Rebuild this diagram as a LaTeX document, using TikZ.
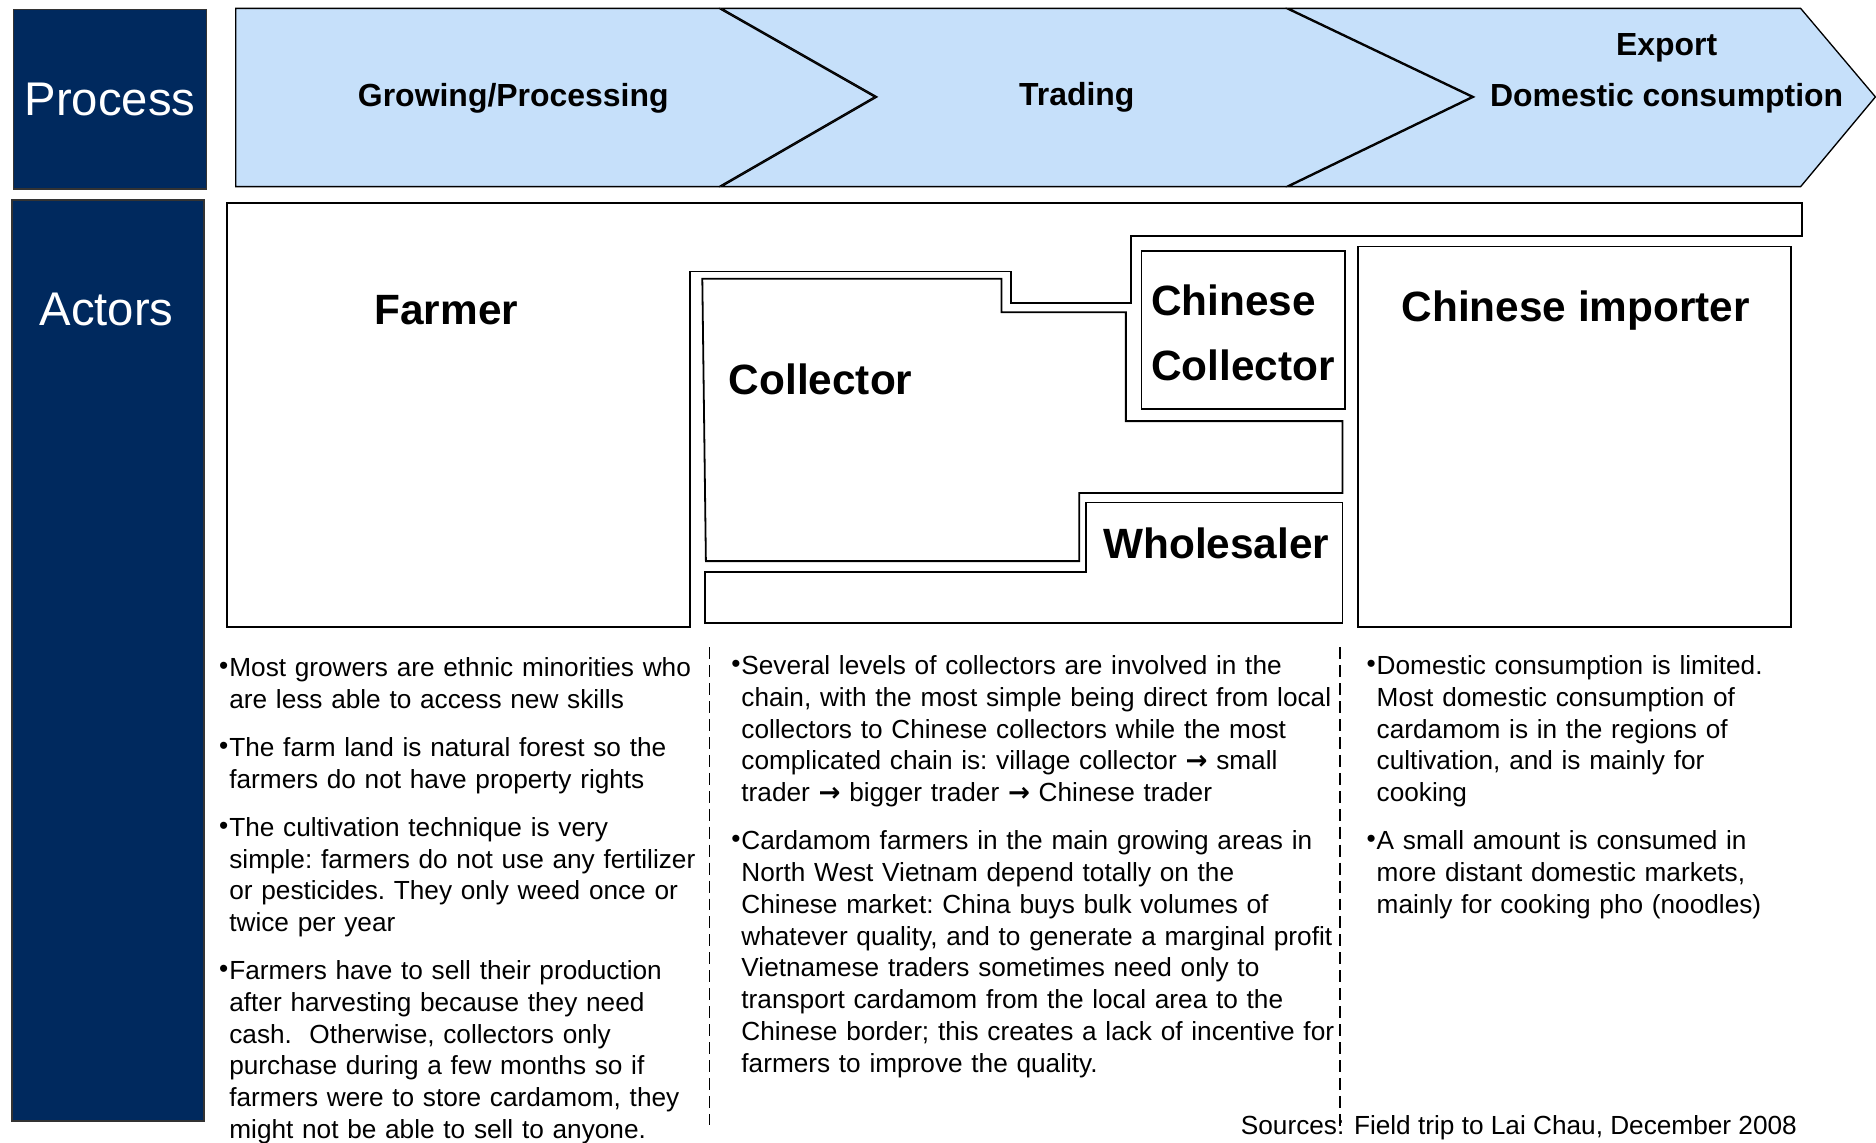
\documentclass[tikz,border=0pt]{standalone}
\usepackage{fontspec}
\setmainfont{Liberation Sans}
\newfontfamily\arrowfont{DejaVu Sans}
\definecolor{navy}{RGB}{0,41,94}
\definecolor{chev}{RGB}{198,224,250}
\newcommand\rarr{{\arrowfont\bfseries\char"2192}}
\newcommand\bpara[1]{\par\noindent\hangindent=8.5pt\hangafter=1\strut\makebox[8.5pt][l]{\raisebox{1.8pt}{\char"2022}}#1\par}
\newcommand\pgap{\vskip 13.4pt}
\begin{document}
\begin{tikzpicture}[x=1pt,y=-1pt,
  navybox/.style={fill=navy,draw=black!80,line width=1.2pt,inner sep=0pt,text=white,font=\fontsize{39.5}{44}\selectfont},
  chevron/.style={fill=chev,draw=black,line width=1.1pt},
  actorline/.style={draw=black,line width=1.5pt},
  chevlabel/.style={anchor=base,inner sep=0pt,font=\bfseries\fontsize{26.7}{30}\selectfont},
  actorlabel/.style={inner sep=0pt,font=\bfseries\fontsize{35.4}{40}\selectfont},
  bodytext/.style={anchor=north west,inner sep=0pt,font=\fontsize{21.9}{26.6}\selectfont},
  sep/.style={draw=black,line width=1.3pt,dash pattern=on 10pt off 5pt}
]
\useasboundingbox (0,0) rectangle (1568,955);

% left header boxes
\node[navybox,minimum width=161pt,minimum height=150pt] (process) at (92,83) {Process};
\node[navybox,minimum width=160.5pt,minimum height=770pt] (actors) at (90.25,552) {};
\node[anchor=base,inner sep=0pt,text=white,font=\fontsize{39.5}{44}\selectfont] (actorslbl) at (89,272) {Actors};

% process chevrons
\draw[chevron] (197,7) -- (601,7) -- (731,81) -- (601,156) -- (197,156) -- cycle;
\draw[chevron] (603,7) -- (1075,7) -- (1230,81) -- (1075,156) -- (603,156) -- (733,81) -- cycle;
\draw[chevron] (1077,7) -- (1505,7) -- (1567.5,81) -- (1505,156) -- (1077,156) -- (1232,81) -- cycle;
\node[chevlabel] (growing) at (429,89) {Growing/Processing};
\node[chevlabel] (trading) at (900,88) {Trading};
\node[chevlabel] (export) at (1393,46) {Export};
\node[chevlabel] (domestic) at (1393,89) {Domestic consumption};

% actor shapes
\draw[actorline] (190,170) -- (1506,170) -- (1506,197) -- (945,197) -- (945,253) -- (845,253) -- (845,227) -- (577,227) -- (577,524) -- (190,524) -- cycle;
\draw[actorline] (587,233) -- (837,233) -- (837,261) -- (941,261) -- (941,352) -- (1122,352) -- (1122,412) -- (902,412) -- (902,469) -- (590,469) -- cycle;
\draw[actorline] (589,478) -- (908,478) -- (908,420) -- (1122,420) -- (1122,521) -- (589,521) -- cycle;
\draw[actorline] (954,210) rectangle (1124,342);
\draw[actorline] (1135,206) rectangle (1497,524);

\node[actorlabel,anchor=base] (farmer) at (373,271) {Farmer};
\node[actorlabel,anchor=base west] (collector) at (609,330) {Collector};
\node[actorlabel,anchor=base west] (chcol1) at (962,264) {Chinese};
\node[actorlabel,anchor=base west] (chcol2) at (962,318) {Collector};
\node[actorlabel,anchor=base] (importer) at (1317,269) {Chinese importer};
\node[actorlabel,anchor=base west] (wholesaler) at (922,467) {Wholesaler};

% separators
\coordinate (s1a) at (593,541); \coordinate (s1b) at (593,940);
\coordinate (s2a) at (1120,541); \coordinate (s2b) at (1120,945);
\draw[sep] (s1a) -- (s1b);
\draw[sep] (s2a) -- (s2b);

% text columns
\node[bodytext,text width=440pt] (col1) at (183,538.9) {\frenchspacing\parskip=0pt
\bpara{Most growers are ethnic minorities who\newline are less able to access new skills}\pgap
\bpara{The farm land is natural forest so the\newline farmers do not have property rights}\pgap
\bpara{The cultivation technique is very\newline simple: farmers do not use any fertilizer\newline or pesticides. They only weed once or\newline twice per year}\pgap
\bpara{Farmers have to sell their production\newline after harvesting because they need\newline cash.\ \ Otherwise, collectors only\newline purchase during a few months so if\newline farmers were to store cardamom, they\newline might not be able to sell to anyone.}};

\node[bodytext,text width=540pt] (col2) at (611,536.9) {\frenchspacing\parskip=0pt
\bpara{Several levels of collectors are involved in the\newline chain, with the most simple being direct from local\newline collectors to Chinese collectors while the most\newline complicated chain is: village collector \rarr{} small\newline trader \rarr{} bigger trader \rarr{} Chinese trader}\pgap
\bpara{Cardamom farmers in the main growing areas in\newline North West Vietnam depend totally on the\newline Chinese market: China buys bulk volumes of\newline whatever quality, and to generate a marginal profit\newline Vietnamese traders sometimes need only to\newline transport cardamom from the local area to the\newline Chinese border; this creates a lack of incentive for\newline farmers to improve the quality.}};

\node[bodytext,text width=400pt] (col3) at (1142,536.9) {\frenchspacing\parskip=0pt
\bpara{Domestic consumption is limited.\newline Most domestic consumption of\newline cardamom is in the regions of\newline cultivation, and is mainly for\newline cooking}\pgap
\bpara{A small amount is consumed in\newline more distant domestic markets,\newline mainly for cooking pho (noodles)}};

\node[anchor=base east,inner sep=0pt,font=\fontsize{21.9}{26.6}\selectfont] (sources) at (1502,948) {Sources: Field trip to Lai Chau, December 2008};
\end{tikzpicture}
\end{document}
